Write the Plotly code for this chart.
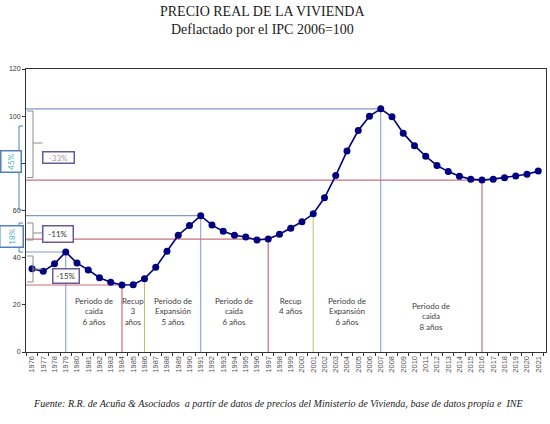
import plotly.graph_objects as go

years = list(range(1976, 2022))
precio = [35.3, 34.2, 37.4, 42.4, 37.7, 34.8, 31.5, 29.6, 28.4, 28.5,
          31.1, 35.9, 42.7, 49.5, 53.6, 57.8, 53.8, 51.2, 49.5, 48.8,
          47.5, 47.9, 49.9, 52.5, 55.2, 58.6, 65.4, 74.8, 85.2, 93.9,
          100.0, 103.1, 99.7, 92.8, 87.5, 83.0, 79.1, 76.5, 74.5, 73.3,
          72.9, 73.3, 73.9, 74.6, 75.4, 76.7]
peak_years = [1979, 1991, 2007]
trough_years = [1984, 1997, 2016]
expansion_start_years = [1986, 2001]
period_texts = ["Periodo de<br>caida<br>6 años", "Recup<br>3<br>años",
                "Periodo de<br>Expansión<br>5 años", "Periodo de<br>caida<br>6 años",
                "Recup<br>4 años", "Periodo de<br>Expansión<br>6 años",
                "Periodo de<br>caida<br>8 años"]
period_bounds = [1979, 1984, 1986, 1991, 1997, 2001, 2007, 2016]
y_ticks = [0, 20, 40, 60, 80, 100, 120]

val = dict(zip(years, precio))

# layout geometry (pixels)
W, H = 550, 424
ML, MR, MT, MB = 26, 4, 69, 72
PW, PH = W - ML - MR, H - MT - MB
XMIN, XMAX = 1975.467, 2021.69
YMAX = 120


def px(x):
    return (x - ML) / PW


def py(y):
    return (H - MB - y) / PH


BLUE = "#8099c8"
RED = "#c9707d"
OLIVE = "#bfbf6a"
GREY = "#8c8c8c"
PURPLE = "#6a5a9c"
BOXBLUE = "#4f81bd"
LIGHTBLUE = "#4bacc6"

fig = go.Figure()

shapes = []
# horizontal and vertical reference lines
for yr in peak_years:
    v = val[yr]
    shapes.append(dict(type="line", xref="x", yref="y", x0=XMIN, x1=yr, y0=v, y1=v,
                       line=dict(color=BLUE, width=1.2), layer="below"))
    shapes.append(dict(type="line", xref="x", yref="y", x0=yr, x1=yr, y0=0, y1=v,
                       line=dict(color=BLUE, width=1), layer="below"))
for yr in trough_years:
    v = val[yr]
    shapes.append(dict(type="line", xref="x", yref="y", x0=XMIN, x1=yr, y0=v, y1=v,
                       line=dict(color=RED, width=1.2), layer="below"))
    shapes.append(dict(type="line", xref="x", yref="y", x0=yr, x1=yr, y0=0, y1=v,
                       line=dict(color=RED, width=1.2), layer="below"))
for yr in expansion_start_years:
    v = val[yr]
    shapes.append(dict(type="line", xref="x", yref="y", x0=yr, x1=yr, y0=0, y1=v,
                       line=dict(color=OLIVE, width=1), layer="below"))


def brace_right(xp, ytop, ybot, ymid, color, w=6):
    # "}" shaped brace drawn in pixel coordinates
    x0 = px(xp)
    xl = px(xp - w)
    xr = px(xp + w * 1.6)
    path = (f"M {xl},{py(ytop)} L {x0},{py(ytop)} L {x0},{py(ybot)} L {xl},{py(ybot)} "
            f"M {x0},{py(ymid)} L {xr},{py(ymid)}")
    shapes.append(dict(type="path", xref="paper", yref="paper", path=path,
                       line=dict(color=color, width=1)))


def brace_left(xp, ytop, ybot, ymid, color, w=4):
    x0 = px(xp)
    xr = px(xp + w)
    xl = px(xp - w)
    path = (f"M {xr},{py(ytop)} L {x0},{py(ytop)} L {x0},{py(ybot)} L {xr},{py(ybot)} "
            f"M {x0},{py(ymid)} L {xl},{py(ymid)}")
    shapes.append(dict(type="path", xref="paper", yref="paper", path=path,
                       line=dict(color=color, width=1)))


brace_right(33, 111, 177.5, 143, GREY)
brace_right(33, 223, 240, 233, GREY)
brace_right(33, 256, 282, 269, GREY)
brace_left(19, 126, 210, 164, BOXBLUE)
brace_left(19, 223, 252, 237, BOXBLUE)

fig.add_trace(go.Scatter(
    x=years, y=precio, mode="lines+markers",
    line=dict(color="#000080", width=1.6),
    marker=dict(color="#000080", size=7),
    showlegend=False, hoverinfo="x+y"))

annotations = []
# period labels
for i, t in enumerate(period_texts):
    xc = (period_bounds[i] + period_bounds[i + 1]) / 2
    ytop = 22.5 if i == len(period_texts) - 1 else 24.5
    annotations.append(dict(x=xc, y=ytop, xref="x", yref="y", text=t, showarrow=False,
                            xanchor="center", yanchor="top", align="center",
                            font=dict(family="Lato", size=8, color="#404040")))


def box(xc, yc, w, h, text, border, color, angle=0):
    annotations.append(dict(x=px(xc), y=py(yc), xref="paper", yref="paper", text=text,
                            showarrow=False, xanchor="center", yanchor="middle",
                            width=w, height=h, borderpad=0, bordercolor=border,
                            borderwidth=1.5, bgcolor="white", textangle=angle,
                            font=dict(family="Lato", size=8, color=color)))


box(58, 157, 30, 10, "-33%", PURPLE, "#a0a0a0")
box(57.5, 234.5, 29, 15, "-11%", PURPLE, "#333333")
box(65.5, 275.5, 25, 13, "-15%", PURPLE, "#333333")
box(11, 162, 20, 19, "45%", BOXBLUE, LIGHTBLUE, -90)
box(11, 237, 20, 22, "18%", BOXBLUE, LIGHTBLUE, -90)

# titles and source
annotations.append(dict(x=px(262), y=py(12), xref="paper", yref="paper",
                        text="PRECIO REAL DE LA VIVIENDA", showarrow=False,
                        xanchor="center", yanchor="middle",
                        font=dict(family="Liberation Serif", size=14, color="#1a1a1a")))
annotations.append(dict(x=px(262), y=py(29), xref="paper", yref="paper",
                        text="Deflactado por el IPC 2006=100", showarrow=False,
                        xanchor="center", yanchor="middle",
                        font=dict(family="Liberation Serif", size=14, color="#1a1a1a")))
annotations.append(dict(x=px(277.5), y=py(403), xref="paper", yref="paper",
                        text="<i>Fuente: R.R. de Acuña &amp; Asociados  a partir de datos de precios del Ministerio de Vivienda, base de datos propia e  INE</i>",
                        showarrow=False, xanchor="center", yanchor="middle",
                        font=dict(family="Liberation Serif", size=10.1, color="#1a1a1a")))

fig.update_layout(
    template="none",
    width=W, height=H,
    margin=dict(l=ML, r=MR, t=MT, b=MB, autoexpand=False),
    plot_bgcolor="white", paper_bgcolor="white",
    shapes=shapes, annotations=annotations,
    xaxis=dict(range=[XMIN, XMAX], tickmode="array", tickvals=years,
               ticktext=[str(y) for y in years], tickangle=-90, automargin=False,
               tickfont=dict(family="Liberation Sans", size=7.5, color="#505050"),
               ticks="", showgrid=False, zeroline=False,
               showline=True, linecolor="#333333", linewidth=1, mirror=True,
               minor=dict(ticks="outside", ticklen=3, tickcolor="#333333",
                          tick0=1975.5, dtick=1, showgrid=False)),
    yaxis=dict(range=[0, YMAX], tickmode="array", tickvals=y_ticks, automargin=False,
               tickfont=dict(family="Liberation Sans", size=7, color="#333333"),
               ticks="outside", ticklen=3, tickcolor="#333333",
               showgrid=False, zeroline=False,
               showline=True, linecolor="#333333", linewidth=1, mirror=True),
)

fig.write_html("out.html", config={"displayModeBar": False},
               post_script="document.body.style.margin='0';document.body.style.overflow='hidden';")
